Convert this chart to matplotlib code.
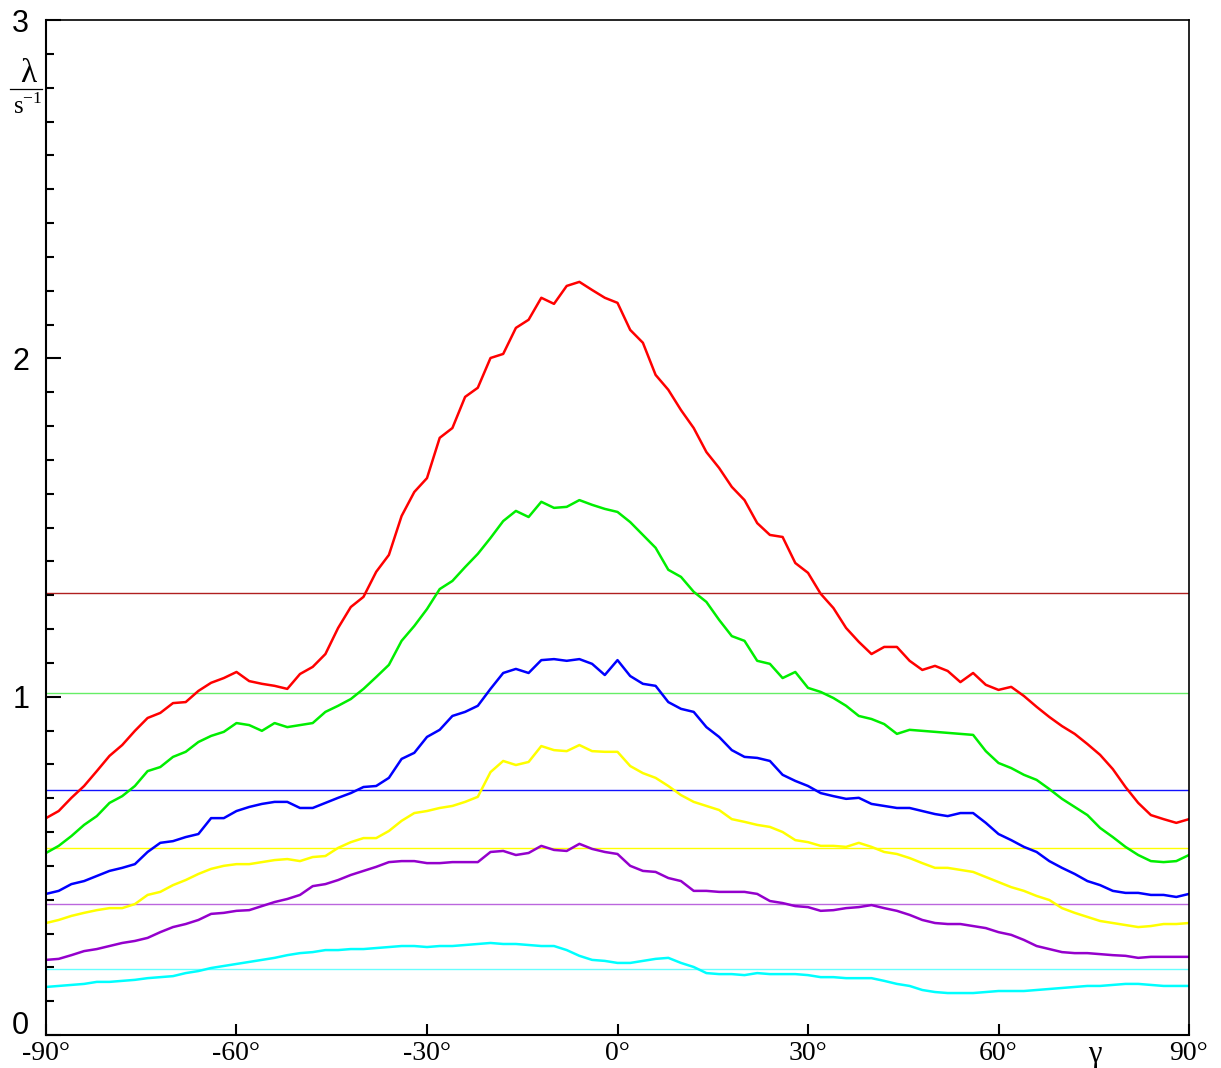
import numpy as np
import matplotlib
matplotlib.use("Agg")
import matplotlib.pyplot as plt
from matplotlib.lines import Line2D
from matplotlib.ticker import MultipleLocator
from matplotlib.transforms import ScaledTranslation

# sample angles (degrees)
gamma = np.arange(-90, 92, 2)

red = [0.641, 0.662, 0.701, 0.736, 0.780, 0.825, 0.857, 0.899, 0.937, 0.952,
       0.981, 0.984, 1.017, 1.041, 1.055, 1.073, 1.046, 1.038, 1.032, 1.023,
       1.067, 1.088, 1.126, 1.203, 1.265, 1.295, 1.369, 1.419, 1.534, 1.605,
       1.646, 1.765, 1.794, 1.886, 1.913, 2.001, 2.013, 2.090, 2.114, 2.179,
       2.161, 2.214, 2.226, 2.202, 2.179, 2.164, 2.084, 2.046, 1.951, 1.907,
       1.847, 1.794, 1.723, 1.676, 1.620, 1.581, 1.513, 1.478, 1.472, 1.395,
       1.366, 1.304, 1.262, 1.203, 1.162, 1.126, 1.147, 1.147, 1.106, 1.079,
       1.091, 1.076, 1.043, 1.070, 1.035, 1.020, 1.029, 1.002, 0.970, 0.940,
       0.913, 0.890, 0.860, 0.828, 0.786, 0.733, 0.686, 0.650, 0.638, 0.627,
       0.638]

green = [0.538, 0.559, 0.588, 0.621, 0.647, 0.686, 0.706, 0.736, 0.780, 0.792,
         0.822, 0.837, 0.866, 0.884, 0.896, 0.922, 0.916, 0.899, 0.922, 0.910,
         0.916, 0.922, 0.955, 0.973, 0.993, 1.023, 1.058, 1.094, 1.165, 1.209,
         1.259, 1.318, 1.342, 1.383, 1.422, 1.469, 1.519, 1.549, 1.531, 1.576,
         1.558, 1.561, 1.581, 1.567, 1.555, 1.546, 1.516, 1.478, 1.440, 1.375,
         1.354, 1.310, 1.280, 1.227, 1.179, 1.165, 1.106, 1.097, 1.055, 1.073,
         1.026, 1.014, 0.996, 0.973, 0.943, 0.934, 0.919, 0.890, 0.902, 0.899,
         0.896, 0.893, 0.890, 0.887, 0.839, 0.804, 0.789, 0.769, 0.754, 0.727,
         0.698, 0.674, 0.650, 0.612, 0.585, 0.556, 0.532, 0.514, 0.511, 0.514,
         0.532]

blue = [0.417, 0.426, 0.446, 0.455, 0.470, 0.485, 0.494, 0.505, 0.541, 0.568,
        0.573, 0.585, 0.594, 0.641, 0.641, 0.662, 0.674, 0.683, 0.689, 0.689,
        0.671, 0.671, 0.686, 0.701, 0.715, 0.733, 0.736, 0.760, 0.816, 0.834,
        0.881, 0.902, 0.943, 0.955, 0.973, 1.023, 1.070, 1.082, 1.070, 1.108,
        1.111, 1.106, 1.111, 1.097, 1.064, 1.108, 1.061, 1.038, 1.032, 0.984,
        0.964, 0.955, 0.910, 0.881, 0.842, 0.822, 0.819, 0.810, 0.769, 0.751,
        0.736, 0.715, 0.706, 0.698, 0.701, 0.683, 0.677, 0.671, 0.671, 0.662,
        0.653, 0.647, 0.656, 0.656, 0.627, 0.594, 0.576, 0.556, 0.541, 0.514,
        0.494, 0.476, 0.455, 0.443, 0.426, 0.420, 0.420, 0.414, 0.414, 0.408,
        0.417]

yellow = [0.331, 0.340, 0.352, 0.361, 0.369, 0.375, 0.375, 0.387, 0.414, 0.423,
          0.443, 0.458, 0.476, 0.491, 0.500, 0.505, 0.505, 0.511, 0.517, 0.520,
          0.514, 0.526, 0.529, 0.553, 0.570, 0.582, 0.582, 0.603, 0.633, 0.656,
          0.662, 0.671, 0.677, 0.689, 0.704, 0.777, 0.810, 0.798, 0.807, 0.854,
          0.842, 0.839, 0.857, 0.839, 0.837, 0.837, 0.795, 0.774, 0.760, 0.736,
          0.709, 0.689, 0.677, 0.665, 0.638, 0.630, 0.621, 0.615, 0.600, 0.576,
          0.570, 0.559, 0.559, 0.556, 0.568, 0.556, 0.541, 0.535, 0.523, 0.508,
          0.494, 0.494, 0.488, 0.482, 0.467, 0.452, 0.437, 0.426, 0.411, 0.399,
          0.375, 0.361, 0.349, 0.337, 0.331, 0.325, 0.319, 0.322, 0.328, 0.328,
          0.331]

purple = [0.222, 0.225, 0.236, 0.248, 0.254, 0.263, 0.272, 0.278, 0.287, 0.304,
          0.319, 0.328, 0.340, 0.358, 0.361, 0.367, 0.369, 0.381, 0.393, 0.402,
          0.414, 0.440, 0.446, 0.458, 0.473, 0.485, 0.497, 0.511, 0.514, 0.514,
          0.508, 0.508, 0.511, 0.511, 0.511, 0.541, 0.544, 0.532, 0.538, 0.559,
          0.547, 0.544, 0.565, 0.550, 0.541, 0.535, 0.500, 0.485, 0.482, 0.464,
          0.455, 0.426, 0.426, 0.423, 0.423, 0.423, 0.417, 0.396, 0.390, 0.381,
          0.378, 0.367, 0.369, 0.375, 0.378, 0.384, 0.375, 0.367, 0.355, 0.340,
          0.331, 0.328, 0.328, 0.322, 0.316, 0.304, 0.296, 0.281, 0.263, 0.254,
          0.245, 0.242, 0.242, 0.239, 0.236, 0.234, 0.228, 0.231, 0.231, 0.231,
          0.231]

cyan = [0.142, 0.145, 0.148, 0.151, 0.157, 0.157, 0.160, 0.163, 0.168, 0.171,
        0.174, 0.183, 0.189, 0.198, 0.204, 0.210, 0.216, 0.222, 0.228, 0.236,
        0.242, 0.245, 0.251, 0.251, 0.254, 0.254, 0.257, 0.260, 0.263, 0.263,
        0.260, 0.263, 0.263, 0.266, 0.269, 0.272, 0.269, 0.269, 0.266, 0.263,
        0.263, 0.251, 0.234, 0.222, 0.219, 0.213, 0.213, 0.219, 0.225, 0.228,
        0.213, 0.201, 0.183, 0.180, 0.180, 0.177, 0.183, 0.180, 0.180, 0.180,
        0.177, 0.171, 0.171, 0.168, 0.168, 0.168, 0.160, 0.151, 0.145, 0.133,
        0.127, 0.124, 0.124, 0.124, 0.127, 0.130, 0.130, 0.130, 0.133, 0.136,
        0.139, 0.142, 0.145, 0.145, 0.148, 0.151, 0.151, 0.148, 0.145, 0.145,
        0.145]

# reference levels (horizontal lines)
levels = [1.307, 1.012, 0.724, 0.553, 0.387, 0.195]

series = [red, green, blue, yellow, purple, cyan]
colors = ['#ff0000', '#00ee00', '#0000ff', '#ffff00', '#9400cc', '#00ffff']
level_colors = ['#b02020', '#66ee66', '#1010ff', '#ffff00', '#bb66dd', '#66ffff']

fig = plt.figure(figsize=(12.21, 10.68), dpi=100)
ax = fig.add_axes([46 / 1221, 1 - 1035 / 1068, (1189 - 46) / 1221, (1035 - 20) / 1068])

for lev, c in zip(levels, level_colors):
    ax.axhline(lev, color=c, lw=1.0, zorder=1)

for vals, c in zip(series, colors):
    ax.plot(gamma, vals, color=c, lw=1.8, zorder=2)

ax.set_xlim(-90, 90)
ax.set_ylim(0, 3)

# y axis: sans digits, inward ticks with minor every 0.1
ax.yaxis.set_major_locator(MultipleLocator(1))
ax.yaxis.set_minor_locator(MultipleLocator(0.1))
ax.set_yticks([0, 1, 2, 3])
ax.set_yticklabels(['0', '1', '2', '3'], family='Liberation Sans', fontsize=22)
ax.tick_params(axis='y', which='major', direction='in', length=11, width=1.5, pad=12)
ax.tick_params(axis='y', which='minor', direction='in', length=6, width=1.5)

# the "0" sits a little above the corner so it clears "-90°"
lbl0 = ax.get_yticklabels()[0]
lbl0.set_transform(lbl0.get_transform() + ScaledTranslation(0, 9 / 72, fig.dpi_scale_trans))

# x axis: serif degree labels
xt = [-90, -60, -30, 0, 30, 60, 90]
ax.set_xticks(xt)
ax.set_xticklabels(['-90°', '-60°', '-30°', '0°', '30°', '60°', '90°'],
                   family='Liberation Serif', fontsize=20)
ax.tick_params(axis='x', which='major', direction='in', length=8, width=1.5, pad=4)
ax.tick_params(top=False, right=False)

for s in ax.spines.values():
    s.set_linewidth(1.5)
ax.spines['top'].set_linewidth(1.2)
ax.spines['right'].set_linewidth(1.2)

# axis names
ax.text(75.2, -0.015, 'γ', transform=ax.transData, ha='center', va='top',
        family='Liberation Serif', fontsize=22)
fig.text(28 / 1221, 1 - 74 / 1068, 'λ', ha='center', va='center',
         family='Liberation Serif', fontsize=24)
fig.add_artist(Line2D([10 / 1221, 42 / 1221], [1 - 89 / 1068, 1 - 89 / 1068],
                      transform=fig.transFigure, color='black', lw=0.9))
fig.text(28 / 1221, 1 - 106 / 1068, 's$^{\\mathregular{-1}}$', ha='center', va='center',
         family='Liberation Serif', fontsize=18)

fig.savefig('out.png', dpi=100)
